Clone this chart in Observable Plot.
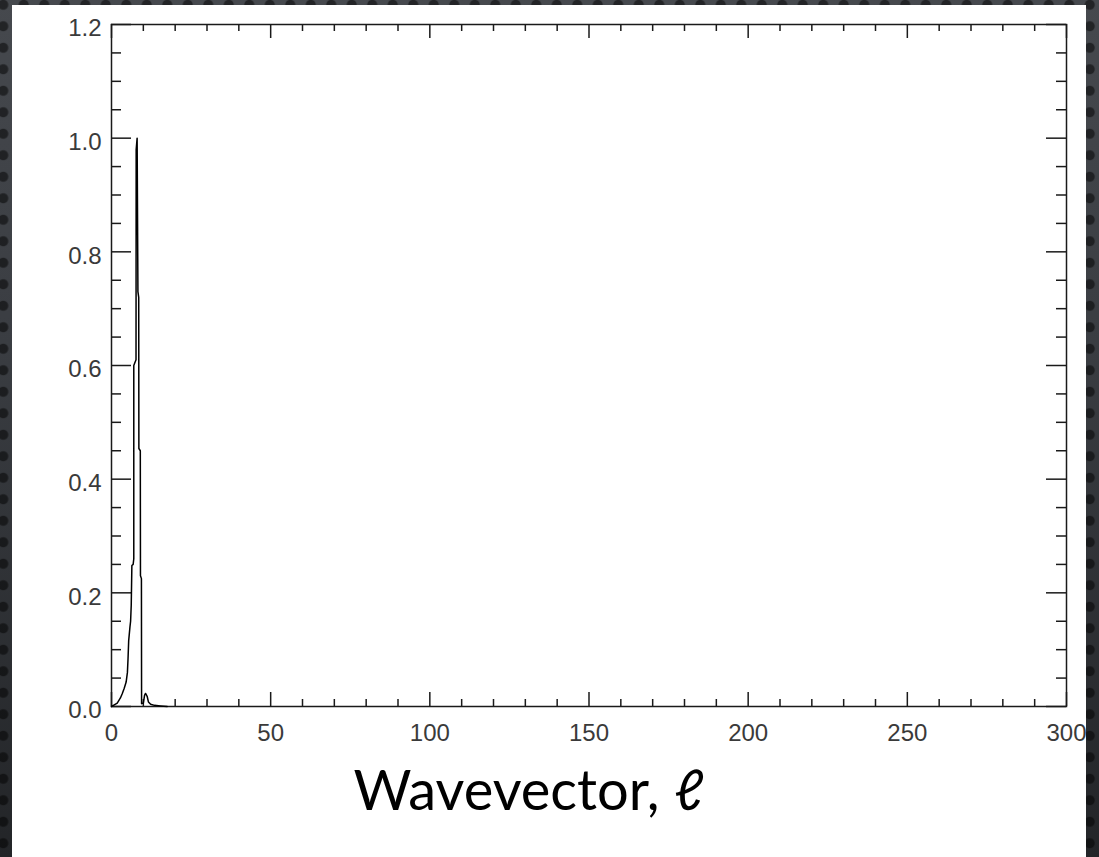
<!DOCTYPE html>
<html>
<head>
<meta charset="utf-8">
<script src="https://cdn.jsdelivr.net/npm/d3@7"></script>
<script src="https://cdn.jsdelivr.net/npm/@observablehq/plot@0.6"></script>
<style>
  html, body { margin: 0; padding: 0; }
  body {
    width: 1099px; height: 857px; overflow: hidden; position: relative;
    background-color: #34373b;
    background-image:
      radial-gradient(circle at 50% 50%, rgba(0,0,0,0.5) 0 4.5px, rgba(0,0,0,0) 5.5px),
      linear-gradient(to bottom, #46494e 0%, #3a3d42 40%, #232528 100%);
    background-size: 20.5px 21.5px, 100% 100%;
    background-position: -7px -6px, 0 0;
  }
  #panel { position: absolute; left: 12px; top: 5px; width: 1074px; height: 852px; background: #fff; }
  #chart { position: absolute; left: 0; top: 0; }
</style>
</head>
<body>
<div id="panel"></div>
<div id="chart"></div>
<script>
// Curve: wavevector ℓ and normalised amplitude
const ell  = [0, 0.6, 1.8, 2.8, 3.4, 4.0, 4.6, 5.0, 5.2, 5.4, 5.8, 6.0, 6.2, 6.4, 6.8, 7.0, 7.0, 7.7, 7.75, 8.05, 8.3, 8.55, 8.6, 9.05, 9.1, 9.4, 9.45, 10.0, 10.4, 10.7, 11.2, 11.6, 12.3, 13.5, 15.4, 17.5];
const amp  = [0, 0.002, 0.006, 0.015, 0.023, 0.032, 0.043, 0.06, 0.085, 0.116, 0.14, 0.15, 0.178, 0.248, 0.25, 0.26, 0.60, 0.61, 0.98, 1.0, 0.73, 0.72, 0.454, 0.45, 0.23, 0.225, 0.005, 0.006, 0.02, 0.023, 0.018, 0.008, 0.004, 0.002, 0.001, 0];

// Axis ticks
const xMajor = [0, 50, 100, 150, 200, 250, 300];
const xMinor = [10, 20, 30, 40, 60, 70, 80, 90, 110, 120, 130, 140, 160, 170, 180, 190, 210, 220, 230, 240, 260, 270, 280, 290];
const yMajor = [0, 0.2, 0.4, 0.6, 0.8, 1.0, 1.2];
const yMinor = [0.05, 0.1, 0.15, 0.25, 0.3, 0.35, 0.45, 0.5, 0.55, 0.65, 0.7, 0.75, 0.85, 0.9, 0.95, 1.05, 1.1, 1.15];
const xTitle = ["Wavevector, \u2113"];

const W = 1099, H = 857;
const mT = 24, mR = 33, mB = 151, mL = 111;
const fw = W - mL - mR, fh = H - mT - mB;
const ink = "#1a1a1a";
const tickStyle = {stroke: ink, strokeWidth: 1.5};
const labFont = "Liberation Sans, DejaVu Sans, sans-serif";

const data = ell.map((x, i) => ({x, y: amp[i]}));

const chart = Plot.plot({
  width: W, height: H,
  marginTop: mT, marginRight: mR, marginBottom: mB, marginLeft: mL,
  style: {background: "transparent", overflow: "visible", fontSize: "24px", fontFamily: labFont},
  x: {domain: [0, 300]},
  y: {domain: [0, 1.2]},
  marks: [
    Plot.frame({stroke: ink, strokeWidth: 1.5}),
    // bottom/top ticks (inward)
    Plot.tickX(xMajor, {...tickStyle, insetTop: fh - 14}),
    Plot.tickX(xMinor, {...tickStyle, insetTop: fh - 7}),
    Plot.tickX(xMajor, {...tickStyle, insetBottom: fh - 14}),
    Plot.tickX(xMinor, {...tickStyle, insetBottom: fh - 7}),
    // left/right ticks (inward)
    Plot.tickY(yMajor, {...tickStyle, insetRight: fw - 20}),
    Plot.tickY(yMinor, {...tickStyle, insetRight: fw - 10}),
    Plot.tickY(yMajor, {...tickStyle, insetLeft: fw - 20}),
    Plot.tickY(yMinor, {...tickStyle, insetLeft: fw - 10}),
    Plot.axisX(xMajor, {tickSize: 0, tickPadding: 17, label: null, fontSize: 24, fill: "#3a3a3a", tickFormat: d => String(d)}),
    Plot.axisY(yMajor, {tickSize: 0, tickPadding: 10, label: null, fontSize: 24, fill: "#3a3a3a", dy: 4, tickFormat: d => d.toFixed(1)}),
    Plot.line(data, {x: "x", y: "y", stroke: "#000", strokeWidth: 1.5}),
    Plot.text(xTitle, {text: d => d, frameAnchor: "bottom-left", textAnchor: "start", lineAnchor: "bottom", dx: 242, dy: 103, fontSize: 56, fontFamily: "Lato, Open Sans, sans-serif", fill: "#000"})
  ]
});
document.getElementById("chart").appendChild(chart);
</script>
</body>
</html>
